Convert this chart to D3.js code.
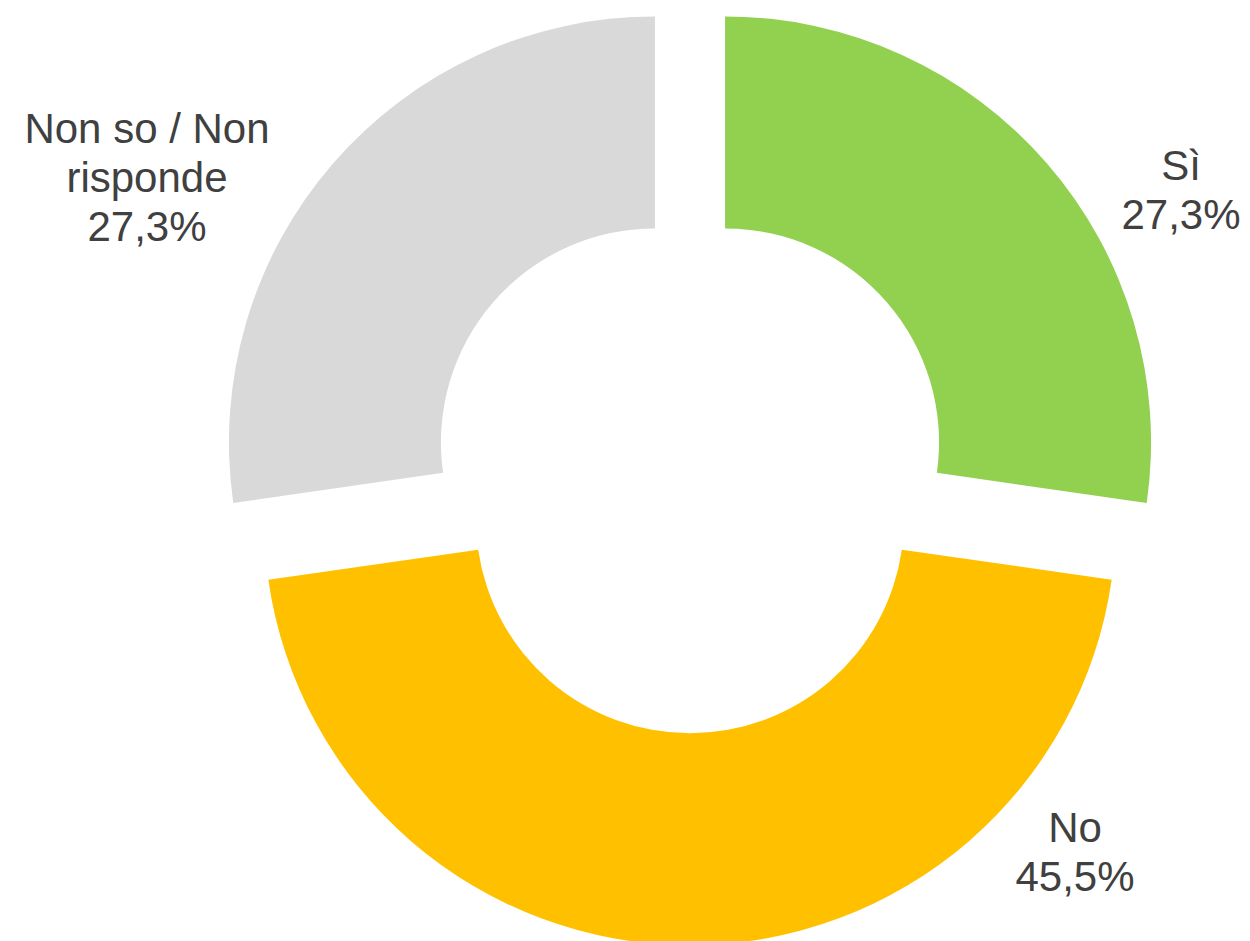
<!DOCTYPE html>
<html lang="it">
<head>
    <meta charset="UTF-8">
    <title>Donut</title>
    <script src="https://d3js.org/d3.v7.min.js"></script>
    <style>
        html, body { margin: 0; padding: 0; background: #fff; }
        svg { display: block; }
    </style>
</head>
<body>
    <svg width="1250" height="941"></svg>
    <script>
// data
const categories = ["Sì", "No", "Non so / Non risponde"];
const values = [27.3, 45.5, 27.3];
const valueLabels = ["27,3%", "45,5%", "27,3%"];
const nameLines = [["Sì"], ["No"], ["Non so / Non", "risponde"]];
const colors = ["#92D050", "#FFC000", "#D9D9D9"];

// layout
const cx = 690, cy = 472.8;
const outerR = 426, innerR = 214;
const explode = 46.4;
const labelPos = [[1181, 180], [1075, 842], [147, 143]]; // first baseline of each label
const lineH = 49;

const svg = d3.select("svg");
const g = svg.append("g").attr("transform", `translate(${cx},${cy})`);

const pie = d3.pie().sort(null).value(d => d);
const arc = d3.arc().innerRadius(innerR).outerRadius(outerR);

const arcs = pie(values);

// each slice pushed out along its bisector (exploded donut)
g.selectAll("path")
    .data(arcs)
    .enter().append("path")
    .attr("d", arc)
    .attr("fill", (d, i) => colors[i])
    .attr("transform", d => {
        const a = (d.startAngle + d.endAngle) / 2;
        return `translate(${Math.sin(a) * explode},${-Math.cos(a) * explode})`;
    });

// labels
const labels = svg.append("g")
    .style("font-family", "'Liberation Sans', Arial, sans-serif")
    .style("font-size", "42px")
    .attr("fill", "#404040")
    .attr("text-anchor", "middle");

categories.forEach((c, i) => {
    const lines = nameLines[i].concat([valueLabels[i]]);
    const t = labels.append("text")
        .attr("x", labelPos[i][0])
        .attr("y", labelPos[i][1]);
    lines.forEach((l, j) => {
        t.append("tspan")
            .attr("x", labelPos[i][0])
            .attr("y", labelPos[i][1] + j * lineH)
            .text(l);
    });
});
    </script>
</body>
</html>
